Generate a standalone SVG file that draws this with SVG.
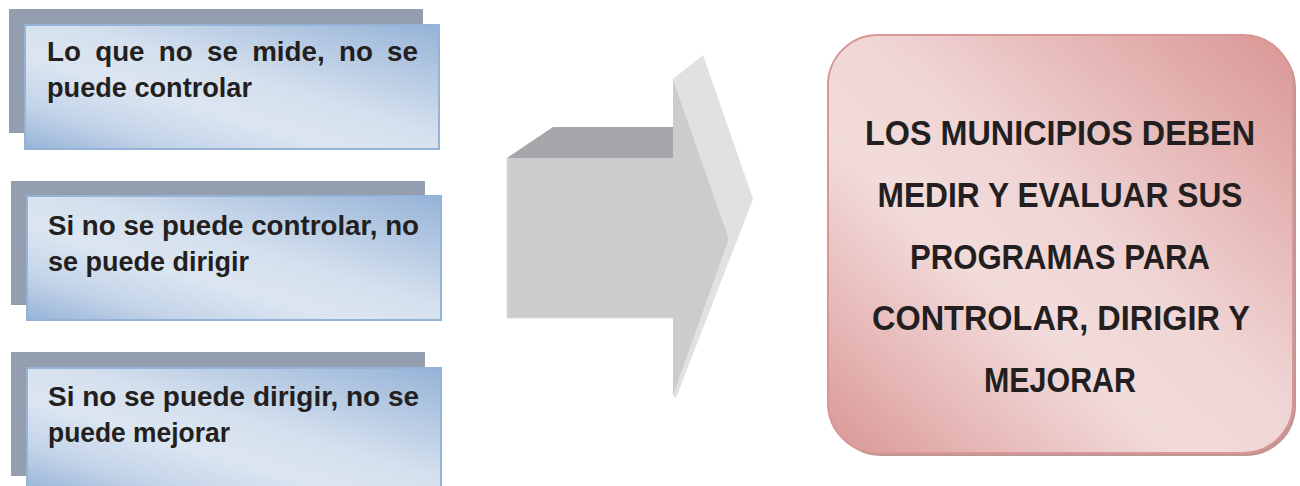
<svg xmlns="http://www.w3.org/2000/svg" width="1300" height="486" viewBox="0 0 1300 486">
<style>
.shadow{fill:#939eaf}
.front{fill:url(#blueGrad);stroke:#95b3d7;stroke-width:2}
.t{font-family:"Liberation Sans",Arial,sans-serif;font-weight:bold;font-size:28px;fill:#231f20}
.c{font-family:"Liberation Sans",Arial,sans-serif;font-weight:bold;font-size:35px;fill:#231f20;text-anchor:middle}
</style>
<defs>
<linearGradient id="blueGrad" x1="1" y1="0" x2="0" y2="1">
<stop offset="0" stop-color="#95b3d7"/>
<stop offset="0.45" stop-color="#d5e0ee"/>
<stop offset="0.62" stop-color="#dce6f2"/>
<stop offset="0.82" stop-color="#c3d3e8"/>
<stop offset="1" stop-color="#95b3d7"/>
</linearGradient>
<linearGradient id="pinkGrad" x1="1" y1="0" x2="0" y2="1">
<stop offset="0" stop-color="#d99694"/>
<stop offset="0.45" stop-color="#f0d5d5"/>
<stop offset="0.62" stop-color="#f2dcdb"/>
<stop offset="0.82" stop-color="#e6b9b8"/>
<stop offset="1" stop-color="#d99694"/>
</linearGradient>
</defs>

<g id="box1">
<rect class="shadow" x="9" y="9" width="414" height="124"/>
<rect class="front" x="25" y="25" width="414" height="124"/>
<text class="t" x="47" y="61" word-spacing="6.6" textLength="371" lengthAdjust="spacingAndGlyphs">Lo que no se mide, no se</text>
<text class="t" x="47" y="97" textLength="205" lengthAdjust="spacingAndGlyphs">puede controlar</text>
</g>

<g id="box2">
<rect class="shadow" x="11" y="181" width="414" height="124"/>
<rect class="front" x="27" y="196" width="414" height="124"/>
<text class="t" x="48" y="235" textLength="371" lengthAdjust="spacingAndGlyphs">Si no se puede controlar, no</text>
<text class="t" x="48" y="271" textLength="201" lengthAdjust="spacingAndGlyphs">se puede dirigir</text>
</g>

<g id="box3">
<rect class="shadow" x="11" y="352" width="414" height="124"/>
<rect class="front" x="27" y="368" width="414" height="124"/>
<text class="t" x="48" y="406" textLength="371" lengthAdjust="spacingAndGlyphs">Si no se puede dirigir, no se</text>
<text class="t" x="48" y="442" textLength="182" lengthAdjust="spacingAndGlyphs">puede mejorar</text>
</g>

<g id="arrow">
<polygon points="507,158 553,127 673,127 673,158" fill="#a6a7aa"/>
<polygon points="673,79 703,55 753,199 676,398 673,396 729,239" fill="#e0e1e2"/>
<polygon points="507,158 673,158 673,79 729,239 673,396 673,318 507,318" fill="#cbcccd"/>
<polyline points="507,158 507,318 673,318" fill="none" stroke="#dcdddf" stroke-width="1"/>
</g>

<g id="result">
<rect x="831" y="38" width="465" height="418" rx="50" ry="50" fill="#bf9796"/>
<rect x="828" y="35" width="465" height="418" rx="50" ry="50" fill="url(#pinkGrad)" stroke="#d99694" stroke-width="2"/>
<text class="c" x="1060" y="145" textLength="390" lengthAdjust="spacingAndGlyphs">LOS MUNICIPIOS DEBEN</text>
<text class="c" x="1060" y="207" textLength="365" lengthAdjust="spacingAndGlyphs">MEDIR Y EVALUAR SUS</text>
<text class="c" x="1060" y="269" textLength="300" lengthAdjust="spacingAndGlyphs">PROGRAMAS PARA</text>
<text class="c" x="1061" y="330" textLength="378" lengthAdjust="spacingAndGlyphs">CONTROLAR, DIRIGIR Y</text>
<text class="c" x="1060" y="392" textLength="152" lengthAdjust="spacingAndGlyphs">MEJORAR</text>
</g>
<g id="connectors"></g>
</svg>
